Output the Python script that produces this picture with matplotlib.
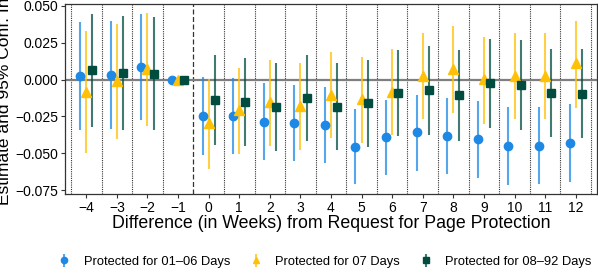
import numpy as np
import matplotlib
matplotlib.use('agg')
import matplotlib.pyplot as plt

weeks = [-4, -3, -2, -1, 0, 1, 2, 3, 4, 5, 6, 7, 8, 9, 10, 11, 12]

# protected 01-06 days
est_short = [0.0025, 0.0034, 0.0086, 0.0, -0.0247, -0.0247, -0.0285, -0.0297, -0.0306,
             -0.0455, -0.0392, -0.0358, -0.0383, -0.0405, -0.0450, -0.0450, -0.0428]
lo_short = [-0.0342, -0.0333, -0.0276, 0.0, -0.0514, -0.0507, -0.0548, -0.0555, -0.0568,
            -0.0706, -0.0645, -0.0618, -0.0643, -0.0666, -0.0718, -0.0711, -0.0697]
hi_short = [0.0394, 0.0400, 0.0446, 0.0, 0.0018, 0.0014, -0.0020, -0.0036, -0.0050,
            -0.0199, -0.0138, -0.0102, -0.0122, -0.0147, -0.0183, -0.0188, -0.0165]

# protected 07 days
est_week = [-0.0081, -0.0007, 0.0075, 0.0, -0.0297, -0.0206, -0.0154, -0.0179, -0.0104,
            -0.0134, -0.0081, 0.0023, 0.0075, 0.0002, 0.0023, 0.0027, 0.0111]
lo_week = [-0.0500, -0.0400, -0.0317, 0.0, -0.0604, -0.0503, -0.0451, -0.0480, -0.0398,
           -0.0432, -0.0376, -0.0269, -0.0229, -0.0299, -0.0269, -0.0269, -0.0190]
hi_week = [0.0330, 0.0378, 0.0453, 0.0, 0.0002, 0.0082, 0.0136, 0.0113, 0.0186,
           0.0152, 0.0208, 0.0315, 0.0367, 0.0290, 0.0315, 0.0319, 0.0400]

# protected 08-92 days
est_long = [0.0063, 0.0045, 0.0041, 0.0, -0.0138, -0.0154, -0.0186, -0.0125, -0.0183,
            -0.0161, -0.0093, -0.0070, -0.0104, -0.0025, -0.0038, -0.0093, -0.0095]
lo_long = [-0.0324, -0.0344, -0.0344, 0.0, -0.0446, -0.0451, -0.0482, -0.0419, -0.0480,
           -0.0455, -0.0385, -0.0374, -0.0414, -0.0331, -0.0340, -0.0392, -0.0394]
hi_long = [0.0446, 0.0430, 0.0423, 0.0, 0.0168, 0.0145, 0.0113, 0.0168, 0.0113,
           0.0134, 0.0199, 0.0231, 0.0204, 0.0276, 0.0267, 0.0208, 0.0211]

series = [
    ('Protected for 01\u201306 Days', est_short, lo_short, hi_short, '#1E88E5', 'o', 6.0, -0.2),
    ('Protected for 07 Days', est_week, lo_week, hi_week, '#FFC107', '^', 6.5, 0.0),
    ('Protected for 08\u201392 Days', est_long, lo_long, hi_long, '#004D40', 's', 5.5, 0.2),
]

plt.rcParams['font.family'] = ['Liberation Sans', 'DejaVu Sans']
plt.rcParams['axes.unicode_minus'] = True

fig = plt.figure(figsize=(5.98, 2.78), dpi=100)
ax = fig.add_axes([0.109, 0.302, 0.889, 0.684])

x = np.array(weeks, dtype=float)
handles = []
for name, est, lo, hi, col, mk, ms, off in series:
    est = np.array(est)
    yerr = np.vstack([est - np.array(lo), np.array(hi) - est])
    h = ax.errorbar(x + off, est, yerr=yerr, fmt=mk, color=col, ms=ms,
                    ecolor=col, elinewidth=1.5, capsize=0, label=name, zorder=3)
    h[2][0].set_alpha(0.75)
    handles.append(h)

ax.axhline(0, color='#7f7f7f', lw=1.6, zorder=1)
for b in np.arange(-4.5, 13, 1.0):
    if b == -0.5:
        ax.axvline(b, color='#333333', lw=0.9, ls=(0, (4, 2)), zorder=0)
    else:
        ax.axvline(b, color='#333333', lw=0.8, ls=(0, (1, 1)), zorder=0)

ax.set_xlim(-4.69, 12.69)
ax.set_ylim(-0.0777, 0.0514)
ax.set_xticks(weeks)
ax.set_yticks([-0.075, -0.05, -0.025, 0.0, 0.025, 0.05])
ax.set_yticklabels(['\u22120.075', '\u22120.050', '\u22120.025', '0.000', '0.025', '0.050'])
ax.tick_params(labelsize=10, color='#333333', length=3, width=0.8, pad=2)
for s in ax.spines.values():
    s.set_color('#333333')
    s.set_linewidth(0.9)

ax.set_xlabel('Difference (in Weeks) from Request for Page Protection', fontsize=12.8, labelpad=0)
ax.set_ylabel('Estimate and 95% Conf. Int', fontsize=12.5, labelpad=2)

fig.legend(handles=handles, loc='lower center', bbox_to_anchor=(0.543, -0.005), ncol=3,
           frameon=False, fontsize=9.3, handlelength=1.0, columnspacing=1.5,
           handletextpad=1.0, markerscale=0.75)

fig.savefig('out.png', dpi=100)
